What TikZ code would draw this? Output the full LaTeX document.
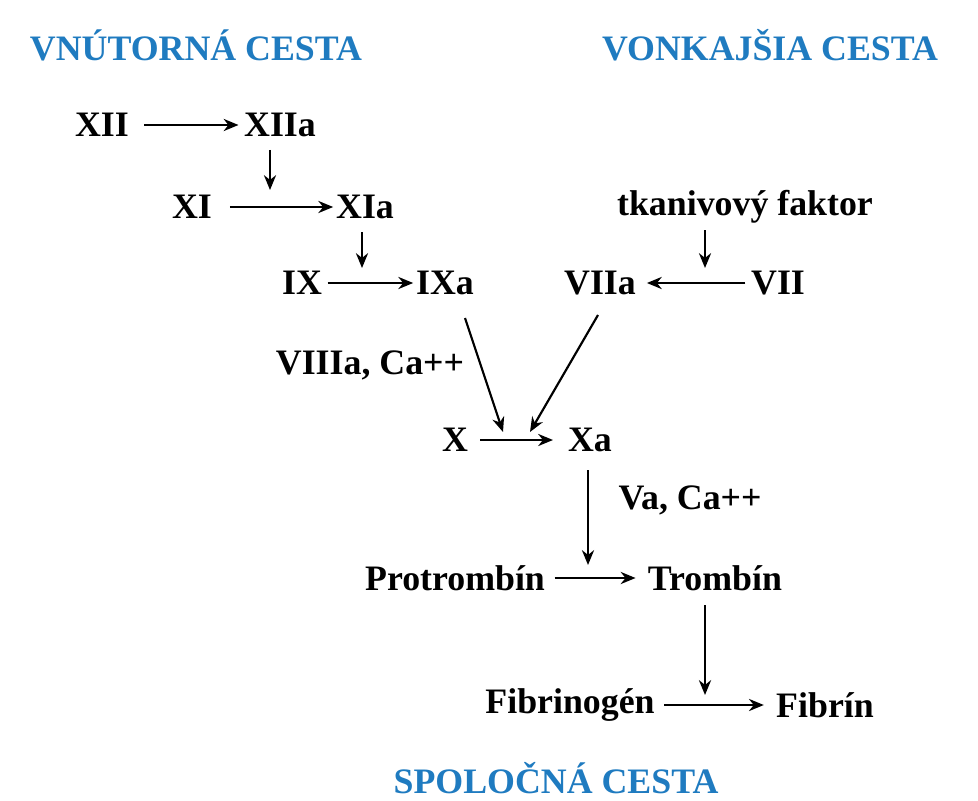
\documentclass[tikz,border=0pt]{standalone}
\usepackage{fontspec}
\setmainfont{Liberation Serif}
\usetikzlibrary{arrows.meta}
\definecolor{cestablue}{RGB}{31,123,192}
\begin{document}
\begin{tikzpicture}[x=0.026cm,y=-0.026cm,
    every node/.style={font=\fontsize{26.5}{30}\selectfont\bfseries,inner sep=0pt},
    title/.style={text=cestablue},
    arr/.style={-{Stealth[length=11pt,width=9pt]},line width=1.6pt}]
    \useasboundingbox (0,0) rectangle (978,800);
    % titles
    \node[title] (tin) at (196,45) {VNÚTORNÁ CESTA};
    \node[title] (tex) at (770,45) {VONKAJŠIA CESTA};
    \node[title] (tsp) at (556,778) {SPOLOČNÁ CESTA};
    % factors
    \node (f12) at (102,125) {XII};
    \node (f12a) at (280,125) {XIIa};
    \node (f11) at (192,207) {XI};
    \node (f11a) at (365,207) {XIa};
    \node (f9) at (302,283) {IX};
    \node (f9a) at (445,283) {IXa};
    \node (f7a) at (600,283) {VIIa};
    \node (f7) at (778,283) {VII};
    \node (tf) at (745,207) {tkanivový faktor};
    \node (c8) at (370,365) {VIIIa, Ca++};
    \node (f10) at (455,440) {X};
    \node (f10a) at (590,440) {Xa};
    \node (c5) at (690,500) {Va, Ca++};
    \node (pt) at (455,578) {Protrombín};
    \node (tr) at (715,578) {Trombín};
    \node (fg) at (570,705) {Fibrinogén};
    \node (fb) at (825,705) {Fibrín};
    % free ends
    \coordinate (e1) at (270,190);
    \coordinate (e2) at (362,268);
    \coordinate (e3) at (705,268);
    \coordinate (e4) at (503,432);
    \coordinate (e5) at (530,432);
    \coordinate (e6) at (588,565);
    \coordinate (e7) at (705,695);
    % reactions
    \draw[arr] ([xshift=11pt]f12.east) -- ([xshift=-4pt]f12a.west);
    \draw[arr] ([xshift=13pt]f11.east) -- ([xshift=-2pt]f11a.west);
    \draw[arr] ([xshift=4pt]f9.east) -- ([xshift=-2pt]f9a.west);
    \draw[arr] ([xshift=-4pt]f7.west) -- ([xshift=8pt]f7a.east);
    \draw[arr] ([xshift=9pt]f10.east) -- ([xshift=-11pt]f10a.west);
    \draw[arr] ([xshift=7pt]pt.east) -- ([xshift=-9pt]tr.west);
    \draw[arr] ([xshift=7pt]fg.east) -- ([xshift=-9pt]fb.west);
    % activations
    \draw[arr] (270,150) -- (e1);
    \draw[arr] (362,232) -- (e2);
    \draw[arr] (705,230) -- (e3);
    \draw[arr] (465,318) -- (e4);
    \draw[arr] (598,315) -- (e5);
    \draw[arr] (588,470) -- (e6);
    \draw[arr] (705,605) -- (e7);
\end{tikzpicture}
\end{document}
